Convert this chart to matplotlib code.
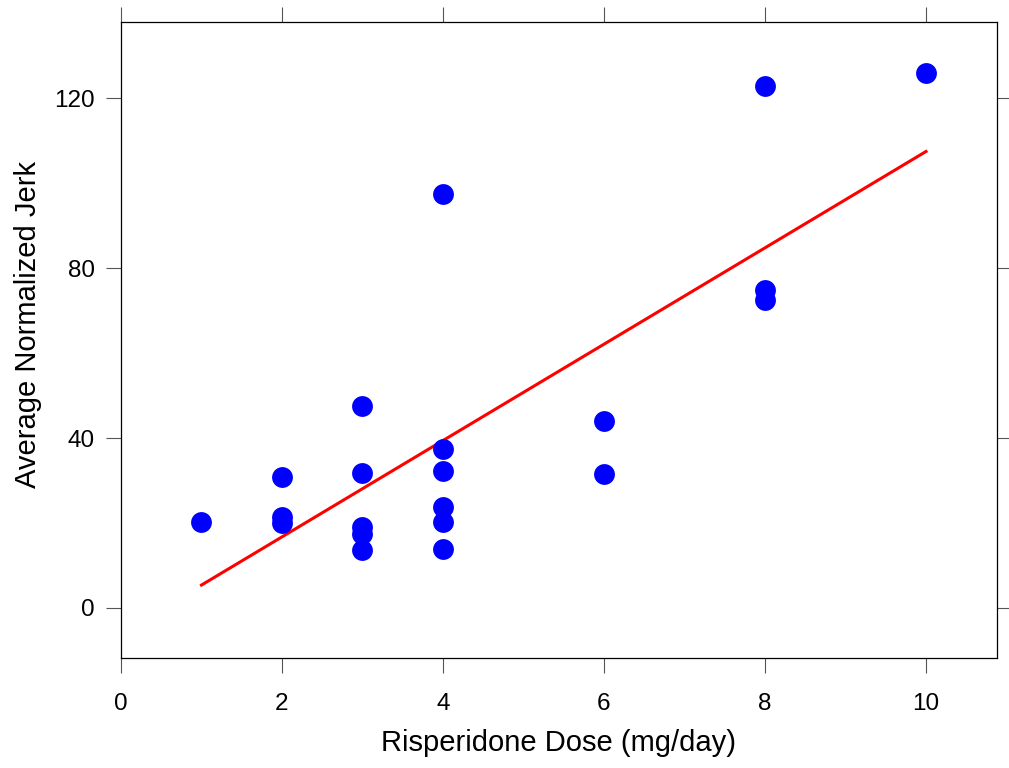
import numpy as np
import matplotlib
matplotlib.use('Agg')
from matplotlib import pyplot as plt

plt.rcParams['font.family'] = ['Liberation Sans', 'DejaVu Sans']

# dosis y jerk normalizado promedio
dose = [1, 2, 2, 2, 3, 3, 3, 3, 3, 4, 4, 4, 4, 4, 4, 6, 6, 8, 8, 8, 10]
jerk = [20.2, 30.9, 21.5, 19.9, 47.6, 31.7, 19.0, 17.4, 13.7,
        97.5, 37.4, 32.3, 23.7, 20.2, 13.8, 44.1, 31.5,
        123.0, 74.9, 72.5, 126.0]

# recta de ajuste (extremos)
fit_x = [1, 10]
fit_y = [5.4, 107.5]

fig = plt.figure(figsize=(10.09, 7.68), dpi=100)
ax = fig.add_axes([0.1199, 0.1432, 0.8682, 0.8282])

ax.plot(fit_x, fit_y, color='red', lw=2.2, zorder=2)
ax.plot(dose, jerk, 'o', color='#0000ff', ms=15, mec='none', zorder=3)

ax.set_xlim(0, 10.882)
ax.set_ylim(-11.78, 138.0)
ax.set_xticks([0, 2, 4, 6, 8, 10])
ax.set_yticks([0, 40, 80, 120])

ax.tick_params(direction='out', length=11, width=0.8, labelsize=17.5,
               top=True, right=True, color='#555555')
ax.tick_params(axis='x', pad=14)
ax.tick_params(axis='y', pad=8)
for s in ax.spines.values():
    s.set_linewidth(0.9)

ax.set_xlabel('Risperidone Dose (mg/day)', fontsize=21, labelpad=10)
ax.set_ylabel('Average Normalized Jerk', fontsize=21)
ax.yaxis.set_label_coords(-0.09, 0.524)

fig.savefig('out.png', dpi=100)
